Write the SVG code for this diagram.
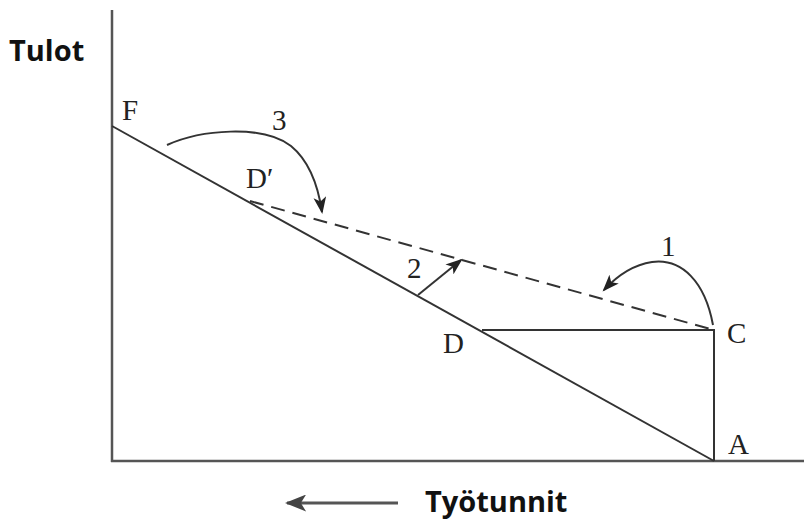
<svg xmlns="http://www.w3.org/2000/svg" width="804" height="522" viewBox="0 0 804 522">
<style>
.ln{stroke:#333;stroke-width:2;fill:none}
.ax{stroke:#555;stroke-width:2.5;fill:none}
.dash{stroke:#333;stroke-width:2;fill:none;stroke-dasharray:14 8}
.lbl{font-family:"Liberation Serif",serif;font-size:29px;fill:#222}
.sans{font-family:"Open Sans","Liberation Sans",sans-serif;font-weight:bold;fill:#111;font-size:29px}
</style>
<defs>
<marker id="ah" viewBox="0 0 16 12" refX="14" refY="6" markerWidth="17" markerHeight="13" markerUnits="userSpaceOnUse" orient="auto">
<path d="M0,0 L16,6 L0,12 L4,6 Z" fill="#222"/>
</marker>
<marker id="ah2" viewBox="0 0 20 16" refX="18" refY="8" markerWidth="22" markerHeight="17" markerUnits="userSpaceOnUse" orient="auto">
<path d="M0,0 L20,8 L0,16 L5,8 Z" fill="#444"/>
</marker>
</defs>
<rect width="804" height="522" fill="#fff"/>
<g id="axes">
<line class="ax" x1="112" y1="10" x2="112" y2="462"/>
<line class="ax" x1="111" y1="461" x2="804" y2="461"/>
</g>
<g id="connectors">
<line class="ln" x1="112" y1="126" x2="714" y2="461"/>
<line class="ln" x1="482" y1="330" x2="714" y2="330"/>
<line class="ln" x1="714" y1="329" x2="714" y2="461"/>
<line class="dash" x1="250" y1="201" x2="714" y2="330"/>
<path class="ln" d="M713,325 C705,282 682,258 652,262 C632,265 616,277 604,290" marker-end="url(#ah)"/>
<path class="ln" d="M418,295 L461,260" marker-end="url(#ah)"/>
<path class="ln" d="M167,145 C200,130 262,124 291,146 C308,160 318,185 322,212" marker-end="url(#ah)"/>
<line stroke="#555" stroke-width="3" x1="398" y1="503" x2="287" y2="503" marker-end="url(#ah2)"/>
</g>
<g id="labels">
<text class="lbl" x="122" y="120">F</text>
<text class="lbl" x="246" y="188">D′</text>
<text class="lbl" x="443" y="353">D</text>
<text class="lbl" x="727" y="343">C</text>
<text class="lbl" x="728" y="454">A</text>
<text class="lbl" x="661" y="256">1</text>
<text class="lbl" x="407" y="278">2</text>
<text class="lbl" x="272" y="130">3</text>
<text class="sans" x="9" y="61">Tulot</text>
<text class="sans" x="425" y="512">Työtunnit</text>
</g>
</svg>
